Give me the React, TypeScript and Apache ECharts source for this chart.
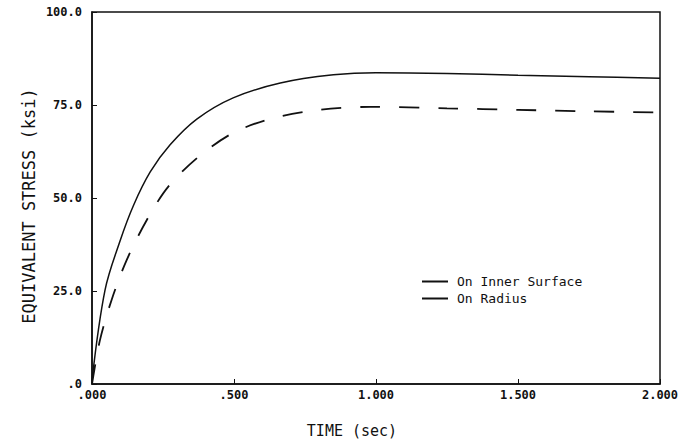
import React, { useEffect, useRef } from "react";
import * as echarts from "echarts";

// Time (sec) and equivalent stress (ksi)
const innerTime = [0, 0.046, 0.099, 0.146, 0.205, 0.275, 0.369, 0.497, 0.663, 0.85, 1.0, 1.25, 1.5, 1.75, 2.0];
const innerStress = [1, 25.3, 38.5, 48.0, 57.0, 64.3, 71.2, 76.9, 80.9, 83.1, 83.7, 83.5, 83.0, 82.6, 82.2];

const radiusTime = [0, 0.028, 0.069, 0.122, 0.193, 0.268, 0.374, 0.497, 0.638, 0.804, 0.98, 1.25, 1.5, 1.75, 2.0];
const radiusStress = [0, 11.8, 22.6, 33.3, 44.1, 53.0, 61.0, 67.5, 71.5, 73.7, 74.5, 74.1, 73.7, 73.3, 73.0];

const seriesNames = ["On Inner Surface", "On Radius"];
const xTickLabels = [".000", ".500", "1.000", "1.500", "2.000"];
const yTickLabels = [".0", "25.0", "50.0", "75.0", "100.0"];
const xTitle = "TIME (sec)";
const yTitle = "EQUIVALENT STRESS (ksi)";

const MONO = "'DejaVu Sans Mono', monospace";
const INK = "#111";

export default function App() {
  const ref = useRef<HTMLDivElement>(null);
  useEffect(() => {
    if (!ref.current) return;
    const chart = echarts.init(ref.current, undefined, { renderer: "svg" });
    const zip = (xs: number[], ys: number[]) => xs.map((x, i) => [x, ys[i]]);
    chart.setOption({
      animation: false,
      backgroundColor: "#fff",
      grid: {
        left: 92,
        right: 28,
        top: 12,
        bottom: 58,
        show: true,
        borderColor: INK,
        borderWidth: 1.5,
        backgroundColor: "transparent",
      },
      xAxis: {
        type: "value",
        min: 0,
        max: 2,
        interval: 0.5,
        axisLine: { show: true, lineStyle: { color: INK, width: 1.5 } },
        axisTick: { show: true, inside: true, length: 5, lineStyle: { color: INK } },
        splitLine: { show: false },
        axisLabel: {
          margin: 5,
          color: INK,
          fontFamily: MONO,
          fontWeight: "bold",
          fontSize: 12,
          formatter: (v: number) => xTickLabels[Math.round(v / 0.5)] ?? "",
        },
      },
      yAxis: {
        type: "value",
        min: 0,
        max: 100,
        interval: 25,
        axisLine: { show: true, lineStyle: { color: INK, width: 1.5 } },
        axisTick: { show: true, inside: true, length: 5, lineStyle: { color: INK } },
        splitLine: { show: false },
        axisLabel: {
          margin: 10,
          color: INK,
          fontFamily: MONO,
          fontWeight: "bold",
          fontSize: 12,
          formatter: (v: number) => yTickLabels[Math.round(v / 25)] ?? "",
        },
      },
      legend: {
        orient: "vertical",
        left: 417,
        top: 270,
        itemWidth: 26,
        itemHeight: 2,
        itemGap: 4,
        icon: "rect",
        data: seriesNames,
        textStyle: {
          color: INK,
          fontFamily: MONO,
          fontSize: 13,
          padding: [0, 0, 0, 4],
        },
      },
      graphic: [
        {
          type: "text",
          x: 352,
          y: 431,
          style: {
            text: xTitle,
            fill: INK,
            font: `15px ${MONO}`,
            textAlign: "center",
            textVerticalAlign: "middle",
          },
        },
        {
          type: "text",
          x: 29,
          y: 206,
          rotation: Math.PI / 2,
          style: {
            text: yTitle,
            fill: INK,
            font: `17px ${MONO}`,
            textAlign: "center",
            textVerticalAlign: "middle",
          },
        },
      ],
      series: [
        {
          name: seriesNames[0],
          type: "line",
          data: zip(innerTime, innerStress),
          smooth: 0.35,
          showSymbol: false,
          color: INK,
          lineStyle: { color: INK, width: 1.5 },
        },
        {
          name: seriesNames[1],
          type: "line",
          data: zip(radiusTime, radiusStress),
          smooth: 0.3,
          showSymbol: false,
          color: INK,
          lineStyle: { color: INK, width: 1.8, type: [20, 19] },
        },
      ],
    });
    return () => chart.dispose();
  }, []);
  return (
    <div
      ref={ref}
      style={{ position: "fixed", left: 0, top: 0, width: 688, height: 442, background: "#fff" }}
    />
  );
}
